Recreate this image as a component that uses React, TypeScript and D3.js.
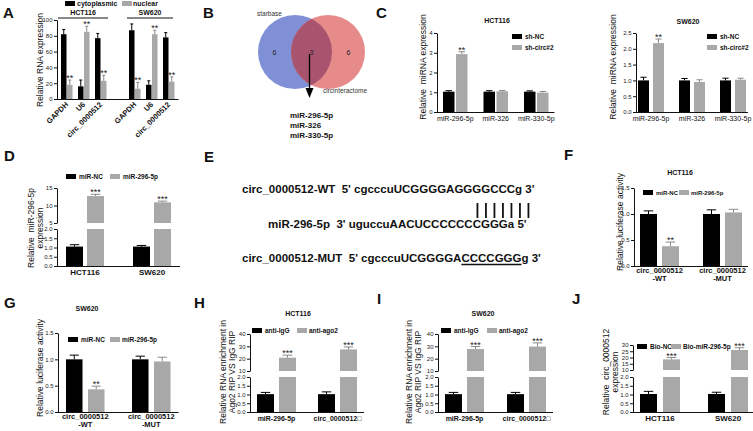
import React, { useEffect, useRef } from 'react';
import * as d3 from 'd3';

const FONT = '"Liberation Sans", Arial, Helvetica, sans-serif';
const BLACK = '#000000';
const GRAY = '#a8a8a8';
const GRAY_ERR = '#8a8a8a';

// ---- A: subcellular fractionation ----
const fracGenes = ['GAPDH', 'U6', 'circ_0000512'];
const cellLines = ['HCT116', 'SW620'];
const fracLegend = ['cytoplasmic', 'nuclear'];
const fracCyto = [82, 16, 77, 87, 18, 78];
const fracCytoErr = [6, 8, 6, 8, 5, 6];
const fracNuc = [18, 85, 23, 13, 82, 22];
const fracNucErr = [6, 7, 7, 8, 5, 6];
const fracStars = ['**', '**', '**', '**', '**', '**'];
const fracTicks = [0, 20, 40, 60, 80, 100];

// ---- B: venn ----
const vennSets = ['starbase', 'circinteractome'];
const vennCounts = [6, 3, 6];
const sharedMirnas = ['miR-296-5p', 'miR-326', 'miR-330-5p'];

// ---- C: knockdown ----
const candMirnas = ['miR-296-5p', 'miR-326', 'miR-330-5p'];
const shLegend = ['sh-NC', 'sh-circ#2'];
const hctShNC = [1.03, 1.03, 1.03];
const hctShNCErr = [0.05, 0.05, 0.04];
const hctShCirc = [2.93, 1.05, 0.98];
const hctShCircErr = [0.12, 0.04, 0.06];
const swShNC = [1.0, 1.0, 1.0];
const swShNCErr = [0.1, 0.06, 0.07];
const swShCirc = [2.18, 0.95, 1.02];
const swShCircErr = [0.13, 0.07, 0.05];
const shStars = ['**', '', ''];
const hctShTicks = [0, 1, 2, 3, 4];
const swShTicks = [0, 0.5, 1, 1.5, 2, 2.5];

// ---- D: mimic ----
const mimicLegend = ['miR-NC', 'miR-296-5p'];
const mimicNC = [1.05, 1.05];
const mimicNCErr = [0.1, 0.06];
const mimic296 = [12.7, 10.9];
const mimic296Err = [0.5, 0.35];
const tripleStars = ['***', '***'];
const smallTicks = [0, 0.5, 1, 1.5, 2];
const mimicHighTicks = [5, 10, 15];

// ---- E: sequences ----
const seqLabels = ['circ_0000512-WT', 'miR-296-5p', 'circ_0000512-MUT'];
const seqStrings = ["5' cgcccuUCGGGGAGGGGCCCg 3'", "3' uguccuAACUCCCCCCCGGGa 5'", "5' cgcccuUCGGGGACCCCGGGg 3'"];
const pairCount = 7;
const seedMUT = 'CCCCGGG';

// ---- F/G: luciferase ----
const reporterLabels = [['circ_0000512', '-WT'], ['circ_0000512', '-MUT']];
const lucTicks = [0, 0.5, 1, 1.5];
const hctLucNC = [1.0, 1.0];
const hctLucNCErr = [0.06, 0.08];
const hctLuc296 = [0.38, 1.03];
const hctLuc296Err = [0.08, 0.06];
const swLucNC = [1.0, 1.0];
const swLucNCErr = [0.08, 0.06];
const swLuc296 = [0.43, 0.96];
const swLuc296Err = [0.06, 0.08];
const lucStars = ['**', ''];

// ---- H/I: RIP ----
const ripTargets = ['miR-296-5p', 'circ_0000512\u25A1'];
const ripLegend = ['anti-IgG', 'anti-ago2'];
const hctIgG = [1.02, 1.02];
const hctIgGErr = [0.1, 0.13];
const hctAgo2 = [20.8, 27.5];
const hctAgo2Err = [2.0, 2.0];
const swIgG = [1.02, 1.02];
const swIgGErr = [0.1, 0.1];
const swAgo2 = [27.8, 29.8];
const swAgo2Err = [2.0, 3.0];
const ripHighTicks = [10, 20, 30, 40];

// ---- J: pull-down ----
const pullLegend = ['Bio-NC', 'Bio-miR-296-5p'];
const pullNC = [1.03, 1.03];
const pullNCErr = [0.15, 0.1];
const pull296 = [18.5, 26];
const pull296Err = [1.5, 1.8];
const pullHighTicks = [10, 15, 20, 25, 30];

type Seg = { domain: [number, number]; range: [number, number]; ticks: number[]; fmt: string };
type Series = { name: string; color: string; err: string; values: number[]; errs: number[]; stars?: string[] };
type Panel = {
  slots: string[];
  keys: string[];
  labels: string[][];
  series: Series[];
  axisX: number; first: number; step: number; barW: number; gap: number;
  lower: Seg; upper?: Seg;
  label: { y: number; size: number; weight: string; lead: number; rotate?: boolean };
};

const pair = (names: string[], a: number[], ae: number[], b: number[], be: number[], stars?: string[]): Series[] => [
  { name: names[0], color: BLACK, err: BLACK, values: a, errs: ae },
  { name: names[1], color: GRAY, err: GRAY_ERR, values: b, errs: be, stars },
];

const fracKeys = cellLines.flatMap(c => fracGenes.map(g => `${c}|${g}`));

const panels: Panel[] = [
  {
    slots: [...fracKeys.slice(0, 3), 'gap', ...fracKeys.slice(3)],
    keys: fracKeys,
    labels: fracKeys.map(k => [k.split('|')[1]]),
    series: pair(fracLegend, fracCyto, fracCytoErr, fracNuc, fracNucErr, fracStars),
    axisX: 57, first: 61, step: 17, barW: 5.5, gap: 0.5,
    lower: { domain: [0, 100], range: [99, 20], ticks: fracTicks, fmt: 'd' },
    label: { y: 105, size: 7.5, weight: 'bold', lead: 0, rotate: true },
  },
  {
    slots: candMirnas, keys: candMirnas, labels: candMirnas.map(d => [d]),
    series: pair(shLegend, hctShNC, hctShNCErr, hctShCirc, hctShCircErr, shStars),
    axisX: 437, first: 443, step: 40.5, barW: 11.5, gap: 1.5,
    lower: { domain: [0, 4], range: [112, 33], ticks: hctShTicks, fmt: 'd' },
    label: { y: 121, size: 7, weight: 'normal', lead: 0 },
  },
  {
    slots: candMirnas, keys: candMirnas, labels: candMirnas.map(d => [d]),
    series: pair(shLegend, swShNC, swShNCErr, swShCirc, swShCircErr, shStars),
    axisX: 636, first: 638, step: 41, barW: 11, gap: 4,
    lower: { domain: [0, 2.5], range: [112, 33], ticks: swShTicks, fmt: '.1f' },
    label: { y: 121, size: 7, weight: 'normal', lead: 0 },
  },
  {
    slots: cellLines, keys: cellLines, labels: cellLines.map(d => [d]),
    series: pair(mimicLegend, mimicNC, mimicNCErr, mimic296, mimic296Err, tripleStars),
    axisX: 57, first: 66, step: 67, barW: 17, gap: 4,
    lower: { domain: [0, 2], range: [266, 229], ticks: smallTicks, fmt: '.1f' },
    upper: { domain: [5, 15], range: [223, 188], ticks: mimicHighTicks, fmt: 'd' },
    label: { y: 275, size: 8, weight: 'bold', lead: 0 },
  },
  {
    slots: ['wt', 'mut'], keys: ['wt', 'mut'], labels: reporterLabels,
    series: pair(mimicLegend, hctLucNC, hctLucNCErr, hctLuc296, hctLuc296Err, lucStars),
    axisX: 634, first: 640, step: 63, barW: 17, gap: 5,
    lower: { domain: [0, 1.5], range: [266, 188], ticks: lucTicks, fmt: '.1f' },
    label: { y: 273, size: 7.5, weight: 'bold', lead: 7.5 },
  },
  {
    slots: ['wt', 'mut'], keys: ['wt', 'mut'], labels: reporterLabels,
    series: pair(mimicLegend, swLucNC, swLucNCErr, swLuc296, swLuc296Err, lucStars),
    axisX: 58, first: 66, step: 66, barW: 16.5, gap: 5.5,
    lower: { domain: [0, 1.5], range: [412, 333], ticks: lucTicks, fmt: '.1f' },
    label: { y: 419, size: 7.5, weight: 'bold', lead: 7.5 },
  },
  {
    slots: ripTargets, keys: ripTargets, labels: ripTargets.map(d => [d]),
    series: pair(ripLegend, hctIgG, hctIgGErr, hctAgo2, hctAgo2Err, tripleStars),
    axisX: 250, first: 257, step: 61, barW: 17, gap: 5,
    lower: { domain: [0, 2], range: [412, 377], ticks: smallTicks, fmt: '.1f' },
    upper: { domain: [10, 40], range: [371, 334], ticks: ripHighTicks, fmt: 'd' },
    label: { y: 421, size: 7, weight: 'bold', lead: 0 },
  },
  {
    slots: ripTargets, keys: ripTargets, labels: ripTargets.map(d => [d]),
    series: pair(ripLegend, swIgG, swIgGErr, swAgo2, swAgo2Err, tripleStars),
    axisX: 438, first: 445, step: 62, barW: 17, gap: 5,
    lower: { domain: [0, 2], range: [412, 377], ticks: smallTicks, fmt: '.1f' },
    upper: { domain: [10, 40], range: [371, 334], ticks: ripHighTicks, fmt: 'd' },
    label: { y: 421, size: 7, weight: 'bold', lead: 0 },
  },
  {
    slots: cellLines, keys: cellLines, labels: cellLines.map(d => [d]),
    series: pair(pullLegend, pullNC, pullNCErr, pull296, pull296Err, tripleStars),
    axisX: 633, first: 640, step: 68, barW: 17, gap: 6,
    lower: { domain: [0, 2], range: [412, 377], ticks: smallTicks, fmt: '.1f' },
    upper: { domain: [10, 30], range: [370, 345], ticks: pullHighTicks, fmt: 'd' },
    label: { y: 421, size: 8, weight: 'bold', lead: 0 },
  },
];

// axis titles, legends, titles, panel letters
const yTitles = [
  { lines: ['Relative RNA expression'], x: [40], y: 60 },
  { lines: ['Relative  miRNA expression'], x: [423], y: 67 },
  { lines: ['Relative  miRNA expression'], x: [613], y: 67 },
  { lines: ['Relative  miR-296-5p', 'expression'], x: [31, 40], y: 228 },
  { lines: ['Relative luciferase activity'], x: [620], y: 222 },
  { lines: ['Relative luciferase activity'], x: [40], y: 368 },
  { lines: ['Relative RNA enrichment in', 'Ago2 RIP VS IgG RIP'], x: [223, 232], y: 372 },
  { lines: ['Relative RNA enrichment in', 'Ago2 RIP VS IgG RIP'], x: [409, 418], y: 372 },
  { lines: ['Relative  circ_0000512', 'expression'], x: [606, 615], y: 372 },
];

const legends = [
  { names: fracLegend, x: [65, 122], y: [1, 1], tx: [77, 133], size: 7 },
  { names: shLegend, x: [512, 512], y: [34, 45], tx: [525, 525], size: 6.5 },
  { names: shLegend, x: [707, 707], y: [34, 45], tx: [720, 720], size: 6.5 },
  { names: mimicLegend, x: [66, 110], y: [174, 174], tx: [79, 123], size: 6.5 },
  { names: mimicLegend, x: [643, 679], y: [190, 190], tx: [656, 691], size: 6 },
  { names: mimicLegend, x: [68, 110], y: [337, 337], tx: [81, 122], size: 6.5 },
  { names: ripLegend, x: [252, 297], y: [328, 328], tx: [265, 309], size: 6.5 },
  { names: ripLegend, x: [441, 487], y: [328, 328], tx: [454, 499], size: 6.5 },
  { names: pullLegend, x: [637, 671], y: [344, 344], tx: [650, 683], size: 6.5 },
];

const titles = [
  { text: 'HCT116', x: 497, y: 23 },
  { text: 'SW620', x: 688, y: 24 },
  { text: 'HCT116', x: 680, y: 175 },
  { text: 'SW620', x: 87, y: 311 },
  { text: 'HCT116', x: 298, y: 316 },
  { text: 'SW620', x: 483, y: 316 },
];

const letters = [
  { t: 'A', x: 3, y: 18 }, { t: 'B', x: 203, y: 18 }, { t: 'C', x: 376, y: 18 },
  { t: 'D', x: 4, y: 161 }, { t: 'E', x: 204, y: 162 }, { t: 'F', x: 564, y: 160 },
  { t: 'G', x: 4, y: 308 }, { t: 'H', x: 194, y: 308 }, { t: 'I', x: 377, y: 304 }, { t: 'J', x: 572, y: 304 },
];

const fracHeaders = [
  { text: cellLines[0], x1: 58, x2: 108 },
  { text: cellLines[1], x1: 127, x2: 173 },
];

const venn = { cx: [295, 328], cy: 52, r: 37 };
const seqLayout = { x: [242, 268, 242], y: [193, 228, 262], size: 11.5 };

function drawPanel(root: d3.Selection<SVGGElement, unknown, null, undefined>, p: Panel) {
  const g = root.append('g');
  const n = p.slots.length;
  const groupW = 2 * p.barW + p.gap;
  const pi = (p.step - groupW) / p.step;
  const po = (p.first - p.axisX) / p.step;
  const x = d3.scaleBand<string>().domain(p.slots)
    .range([p.axisX, p.axisX + p.step * (n - pi + 2 * po)])
    .paddingInner(pi).paddingOuter(po);
  const xs = d3.scaleBand<string>().domain(p.series.map(s => s.name))
    .range([0, groupW]).paddingInner(p.gap / (p.barW + p.gap));
  const yLo = d3.scaleLinear().domain(p.lower.domain).range(p.lower.range);
  const yHi = p.upper ? d3.scaleLinear().domain(p.upper.domain).range(p.upper.range) : null;
  const loMax = p.lower.domain[1];
  const base = yLo(0);

  const segs: [d3.ScaleLinear<number, number>, Seg][] = [[yLo, p.lower]];
  if (yHi && p.upper) segs.push([yHi, p.upper]);
  segs.forEach(([s, c]) => {
    const ax = g.append('g').attr('transform', `translate(${p.axisX},0)`)
      .call(d3.axisLeft(s).tickValues(c.ticks).tickFormat(d3.format(c.fmt) as any).tickSize(3).tickSizeOuter(0));
    ax.attr('font-family', FONT).attr('font-size', 6);
    ax.select('.domain').attr('stroke', '#111');
    ax.selectAll('.tick line').attr('stroke', '#111');
    ax.selectAll('.tick text').attr('fill', '#222').attr('x', -4.5);
  });

  g.append('line')
    .attr('x1', p.axisX).attr('x2', x.range()[1])
    .attr('y1', base + 0.5).attr('y2', base + 0.5)
    .attr('stroke', '#111');

  p.series.forEach(s => {
    s.values.forEach((v, i) => {
      const bx = (x(p.keys[i]) ?? 0) + (xs(s.name) ?? 0);
      const cx = bx + p.barW / 2;
      let sc = yLo;
      if (yHi && p.upper && v > loMax) {
        g.append('rect').attr('x', bx).attr('y', yLo(loMax))
          .attr('width', p.barW).attr('height', base - yLo(loMax)).attr('fill', s.color);
        const hb = yHi(p.upper.domain[0]);
        g.append('rect').attr('x', bx).attr('y', yHi(v))
          .attr('width', p.barW).attr('height', hb - yHi(v)).attr('fill', s.color);
        sc = yHi;
      } else {
        g.append('rect').attr('x', bx).attr('y', yLo(v))
          .attr('width', p.barW).attr('height', base - yLo(v)).attr('fill', s.color);
      }
      const top = sc(v);
      const et = sc(v + s.errs[i]);
      const cap = Math.max(1.5, p.barW * 0.28);
      g.append('line').attr('x1', cx).attr('x2', cx).attr('y1', top).attr('y2', et)
        .attr('stroke', s.err).attr('stroke-width', 1);
      g.append('line').attr('x1', cx - cap).attr('x2', cx + cap).attr('y1', et).attr('y2', et)
        .attr('stroke', s.err).attr('stroke-width', 1);
      if (s.stars && s.stars[i]) {
        g.append('text').attr('x', cx).attr('y', et + 1)
          .attr('text-anchor', 'middle').attr('font-family', FONT).attr('font-size', 9)
          .attr('fill', '#222').text(s.stars[i]);
      }
    });
  });

  p.keys.forEach((k, i) => {
    const cx = (x(k) ?? 0) + groupW / 2;
    if (p.label.rotate) {
      g.append('text')
        .attr('transform', `translate(${cx + 2},${p.label.y}) rotate(-45)`)
        .attr('text-anchor', 'end').attr('font-family', FONT)
        .attr('font-size', p.label.size).attr('font-weight', p.label.weight)
        .attr('fill', '#111').text(p.labels[i][0]);
    } else {
      p.labels[i].forEach((line, j) => {
        g.append('text').attr('x', cx).attr('y', p.label.y + j * p.label.lead)
          .attr('text-anchor', 'middle').attr('font-family', FONT)
          .attr('font-size', p.label.size).attr('font-weight', p.label.weight)
          .attr('fill', '#111').text(line);
      });
    }
  });
}

export default function App() {
  const chartRef = useRef<SVGGElement>(null);
  const seqRef = useRef<SVGGElement>(null);
  const wtRef = useRef<SVGTextElement>(null);
  const mutRef = useRef<SVGTextElement>(null);

  useEffect(() => {
    const root = d3.select(chartRef.current!);
    root.selectAll('*').remove();
    panels.forEach(p => drawPanel(root, p));

    // pairing bars (toward the 3' end of the WT line) and mutation underline
    const sg = d3.select(seqRef.current!);
    sg.selectAll('*').remove();
    const wt = wtRef.current!;
    const mut = mutRef.current!;
    const wtEnd = seqLayout.x[0] + wt.getComputedTextLength();
    const xa = wtEnd - 57;
    const xb = wtEnd - 6;
    d3.range(pairCount).forEach(k => {
      const cx = xa + (xb - xa) * k / (pairCount - 1);
      sg.append('line').attr('x1', cx).attr('x2', cx)
        .attr('y1', seqLayout.y[0] + 10).attr('y2', seqLayout.y[1] - 10)
        .attr('stroke', '#111').attr('stroke-width', 1.8);
    });
    const mutFull = seqLabels[2] + '  ' + seqStrings[2];
    const mStart = mutFull.indexOf(seedMUT);
    const e0 = mut.getExtentOfChar(mStart);
    const e1 = mut.getExtentOfChar(mStart + seedMUT.length - 1);
    sg.append('line').attr('x1', e0.x).attr('x2', e1.x + e1.width)
      .attr('y1', seqLayout.y[2] + 2.5).attr('y2', seqLayout.y[2] + 2.5)
      .attr('stroke', '#111').attr('stroke-width', 1.4);
  }, []);

  const vx = venn.cx;
  const countX = [
    (vx[0] - venn.r + vx[1] - venn.r) / 2,
    (vx[1] - venn.r + vx[0] + venn.r) / 2,
    (vx[0] + venn.r + vx[1] + venn.r) / 2,
  ];

  return (
    <svg width={753} height={431} style={{ position: 'absolute', left: 0, top: 0, background: '#fff' }}
      fontFamily={FONT}>
      <rect width={753} height={431} fill="#fff" />
      {letters.map(l => (
        <text key={l.t} x={l.x} y={l.y} fontSize={15} fontWeight="bold" fill="#111">{l.t}</text>
      ))}

      {/* A group headers */}
      {fracHeaders.map(h => (
        <g key={h.text}>
          <text x={(h.x1 + h.x2) / 2} y={15} textAnchor="middle" fontSize={7} fontWeight="bold" fill="#111">{h.text}</text>
          <line x1={h.x1} x2={h.x2} y1={18} y2={18} stroke="#111" strokeWidth={1} />
        </g>
      ))}

      {/* B venn */}
      <defs>
        <clipPath id="vennLeft"><circle cx={vx[0]} cy={venn.cy} r={venn.r} /></clipPath>
      </defs>
      <circle cx={vx[0]} cy={venn.cy} r={venn.r} fill="#8090d6" />
      <circle cx={vx[1]} cy={venn.cy} r={venn.r} fill="#e68a8a" />
      <circle cx={vx[1]} cy={venn.cy} r={venn.r} fill="#a9546f" clipPath="url(#vennLeft)" />
      {vennCounts.map((c, i) => (
        <text key={i} x={countX[i]} y={venn.cy + 2.5} textAnchor="middle" fontSize={7} fill="#222">{c}</text>
      ))}
      <text x={257} y={16} fontSize={6.5} fill="#333">{vennSets[0]}</text>
      <text x={323} y={93} fontSize={6.5} fill="#333">{vennSets[1]}</text>
      <line x1={countX[1] - 2} x2={countX[1] - 2} y1={54} y2={89} stroke="#000" strokeWidth={1.3} />
      <path d={`M${countX[1] - 6},88 L${countX[1] + 2},88 L${countX[1] - 2},98 Z`} fill="#000" />
      {sharedMirnas.map((m, i) => (
        <text key={m} x={290} y={118 + i * 10} fontSize={8} fontWeight="bold" fill="#111">{m}</text>
      ))}

      {/* E sequences */}
      {seqLabels.map((lab, i) => (
        <text key={lab} ref={i === 0 ? wtRef : i === 2 ? mutRef : undefined}
          x={seqLayout.x[i]} y={seqLayout.y[i]} fontSize={seqLayout.size} fontWeight="bold"
          fill="#111" style={{ whiteSpace: 'pre' }}>
          {lab + '  ' + seqStrings[i]}
        </text>
      ))}
      <g ref={seqRef} />

      {/* titles */}
      {titles.map((t, i) => (
        <text key={i} x={t.x} y={t.y} textAnchor="middle" fontSize={7} fontWeight="bold" fill="#111">{t.text}</text>
      ))}

      {/* legends */}
      {legends.map((l, i) => (
        <g key={i}>
          {l.names.map((nm, j) => (
            <g key={nm}>
              <rect x={l.x[j]} y={l.y[j]} width={10} height={5} fill={j === 0 ? BLACK : GRAY} />
              <text x={l.tx[j]} y={l.y[j] + 5} fontSize={l.size} fontWeight="bold" fill="#111">{nm}</text>
            </g>
          ))}
        </g>
      ))}

      {/* y titles */}
      {yTitles.map((t, i) => (
        <g key={i}>
          {t.lines.map((line, j) => (
            <text key={j} transform={`translate(${t.x[j]},${t.y}) rotate(-90)`} textAnchor="middle"
              dy="0.35em" fontSize={8.5} fill="#111" style={{ whiteSpace: 'pre' }}>{line}</text>
          ))}
        </g>
      ))}

      <g ref={chartRef} />
    </svg>
  );
}
